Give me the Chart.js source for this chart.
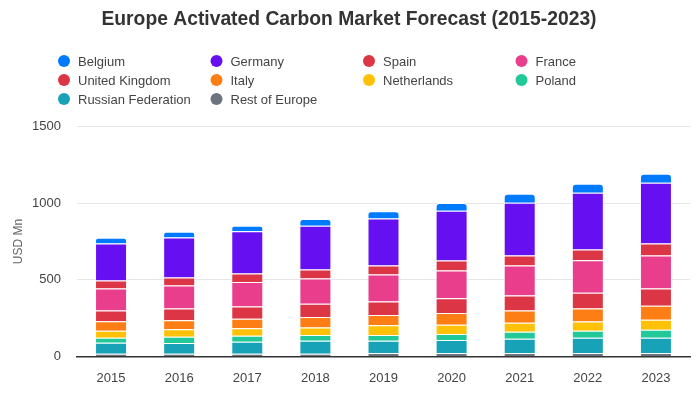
<!DOCTYPE html>
<html>
<head>
<meta charset="utf-8">
<script src="https://cdn.jsdelivr.net/npm/chart.js@4"></script>
<style>
  body { margin: 0; background: #fff; }
</style>
</head>
<body>
<canvas id="chart" width="700" height="400"></canvas>
<script>
const years = ['2015', '2016', '2017', '2018', '2019', '2020', '2021', '2022', '2023'];

// stack order, bottom first
const restOfEurope = [17, 17, 17, 17, 22, 22, 22, 22, 22];
const russia = [72, 70, 79, 85, 80, 85, 94, 100, 100];
const poland = [33, 42, 39, 38, 38, 39, 45, 46, 52];
const netherlands = [46, 48, 48, 48, 63, 61, 59, 59, 66];
const italy = [61, 59, 63, 69, 67, 76, 79, 85, 91];
const unitedKingdom = [70, 76, 79, 87, 88, 96, 98, 104, 112];
const france = [144, 150, 161, 164, 176, 181, 196, 212, 215];
const spain = [52, 53, 55, 59, 59, 66, 65, 70, 79];
const germany = [242, 261, 275, 285, 307, 324, 345, 370, 397];
const belgium = [37, 37, 36, 44, 48, 51, 59, 59, 58];

const yTicks = [0, 500, 1000, 1500];

const series = [
    ['Rest of Europe', restOfEurope, '#6c757d'],
    ['Russian Federation', russia, '#17a2b8'],
    ['Poland', poland, '#20c997'],
    ['Netherlands', netherlands, '#ffc107'],
    ['Italy', italy, '#fd7e14'],
    ['United Kingdom', unitedKingdom, '#dc3545'],
    ['France', france, '#e83e8c'],
    ['Spain', spain, '#dc3545'],
    ['Germany', germany, '#6610f2'],
    ['Belgium', belgium, '#007bff'],
];

const font = 'Liberation Sans';

// legend in a 4-column grid, top of stack first
const gridLegend = {
    id: 'gridLegend',
    afterDraw(chart) {
        const ctx = chart.ctx;
        const items = chart.data.datasets.slice().reverse();
        ctx.save();
        ctx.font = '13px ' + font;
        ctx.textBaseline = 'middle';
        items.forEach((ds, i) => {
            const x = 64 + (i % 4) * 152.5;
            const y = 61 + Math.floor(i / 4) * 19;
            ctx.fillStyle = ds.backgroundColor;
            ctx.beginPath();
            ctx.arc(x, y, 6, 0, Math.PI * 2);
            ctx.fill();
            ctx.fillStyle = '#444';
            ctx.fillText(ds.label, x + 14, y + 1);
        });
        ctx.restore();
    }
};

new Chart(document.getElementById('chart'), {
    type: 'bar',
    plugins: [gridLegend],
    data: {
        labels: years,
        datasets: series.map(([label, data, color], i) => ({
            label: label,
            data: data,
            backgroundColor: color,
            borderColor: '#fff',
            borderWidth: 1,
            borderSkipped: 'start',
            borderRadius: i === series.length - 1 ? {topLeft: 4, topRight: 4} : 0,
            barPercentage: 0.94,
            categoryPercentage: 0.5,
        })),
    },
    options: {
        responsive: false,
        animation: false,
        layout: {padding: {left: 8, right: 10, bottom: 8}},
        plugins: {
            legend: {display: false},
            tooltip: {enabled: false},
            title: {
                display: true,
                text: 'Europe Activated Carbon Market Forecast (2015-2023)',
                color: '#333',
                font: {family: font, size: 19.3, weight: 'bold'},
                padding: {top: 8.4, bottom: 95},
            },
        },
        scales: {
            x: {
                stacked: true,
                grid: {display: false},
                border: {color: '#333', width: 1.5},
                ticks: {color: '#444', font: {family: font, size: 13}, padding: 6},
            },
            y: {
                stacked: true,
                min: 0,
                max: 1500,
                afterBuildTicks: axis => { axis.ticks = yTicks.map(v => ({value: v})); },
                afterFit: axis => { axis.width = 69; },
                grid: {color: '#e6e6e6', drawTicks: false},
                border: {display: false},
                ticks: {
                    color: '#444',
                    font: {family: font, size: 13},
                    padding: 16,
                    callback: value => String(value),
                },
                title: {
                    display: true,
                    text: 'USD Mn',
                    color: '#666',
                    font: {family: font, size: 12},
                    padding: 3,
                },
            },
        },
    },
});
</script>
</body>
</html>
